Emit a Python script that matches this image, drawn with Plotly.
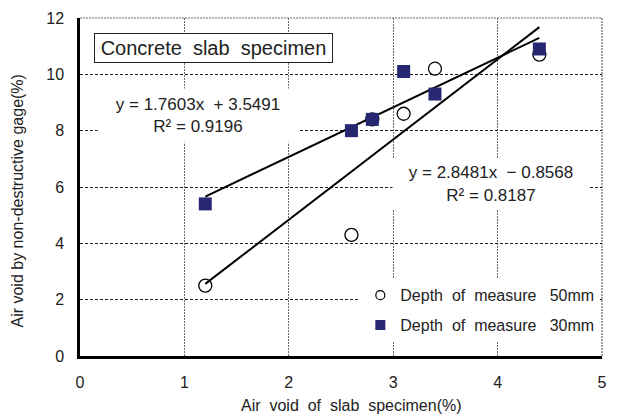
import plotly.graph_objects as go

# ---- data ----
x_specimen = [1.2, 2.6, 2.8, 3.1, 3.4, 4.4]
y_depth50 = [2.5, 4.3, 8.4, 8.6, 10.2, 10.7]
y_depth30 = [5.4, 8.0, 8.4, 10.1, 9.3, 10.9]
fit30 = [1.7603, 3.5491]   # slope, intercept
fit50 = [2.8481, -0.8568]
fit_x_range = [1.2, 4.4]
x_ticks = [0, 1, 2, 3, 4, 5]
y_ticks = [0, 2, 4, 6, 8, 10, 12]

FONT = "Liberation Sans"
NAVY = "#272772"
NB = "\u00a0"

fig = go.Figure()

# trend lines
for a, b in (fit30, fit50):
    fig.add_trace(go.Scatter(
        x=fit_x_range, y=[a * v + b for v in fit_x_range],
        mode="lines", line=dict(color="black", width=2),
        showlegend=False, hoverinfo="skip"))

# data markers
fig.add_trace(go.Scatter(
    x=x_specimen, y=y_depth50, mode="markers", showlegend=False,
    marker=dict(symbol="circle", size=13, color="rgba(0,0,0,0)",
                line=dict(color="black", width=1.3))))
fig.add_trace(go.Scatter(
    x=x_specimen, y=y_depth30, mode="markers", showlegend=False,
    marker=dict(symbol="square", size=13, color=NAVY,
                line=dict(width=0))))

# legend entries
fig.add_trace(go.Scatter(
    x=[None], y=[None], mode="markers", legendgroup="a",
    name=f"Depth{NB} of{NB} measure{NB} {NB}50mm",
    marker=dict(symbol="circle", size=9, color="white",
                line=dict(color="black", width=1.2))))
fig.add_trace(go.Scatter(
    x=[None], y=[None], mode="markers", legendgroup="b",
    name=f"Depth{NB} of{NB} measure{NB} {NB}30mm",
    marker=dict(symbol="square", size=10, color=NAVY, line=dict(width=0))))

common = dict(showgrid=True, gridwidth=1, zeroline=False,
              showline=True, linecolor="black", linewidth=2.5,
              ticks="outside", ticklen=10, tickcolor="rgba(0,0,0,0)",
              tickfont=dict(family=FONT, size=16, color="#222222"))

fig.update_xaxes(range=[0, 5], tickvals=x_ticks,
                 gridcolor="#6a6a6a", griddash="2px,1px", **common)
fig.update_yaxes(range=[0, 12], tickvals=y_ticks,
                 gridcolor="#1a1a1a", griddash="3px,2px", **common)

# dashed top and right frame
fig.add_shape(type="line", xref="paper", yref="paper", x0=0, x1=1, y0=1, y1=1,
              line=dict(color="#6a6a6a", width=1.2, dash="2px,1px"), layer="below")
fig.add_shape(type="line", xref="paper", yref="paper", x0=1, x1=1, y0=0, y1=1,
              line=dict(color="#6a6a6a", width=1.2, dash="2px,1px"), layer="below")

fig.add_annotation(
    x=1.28, y=10.94, xref="x", yref="y",
    text=f"Concrete{NB} slab{NB} specimen", showarrow=False,
    font=dict(family=FONT, size=20, color="#222222"),
    bgcolor="white", bordercolor="#222222", borderwidth=1,
    width=233, height=24, borderpad=2)

fig.add_annotation(
    x=1.13, y=8.53, xref="x", yref="y",
    text=f"y = 1.7603x {NB}+ 3.5491<br>R² = 0.9196", showarrow=False,
    font=dict(family=FONT, size=17, color="#222222"),
    bgcolor="white", width=196, height=49, borderpad=2)

fig.add_annotation(
    x=3.934, y=6.11, xref="x", yref="y",
    text=f"y = 2.8481x {NB}− 0.8568<br>R² = 0.8187", showarrow=False,
    font=dict(family=FONT, size=17, color="#222222"),
    bgcolor="white", width=192, height=46, borderpad=2)

fig.add_annotation(
    x=0.5, y=0, xref="paper", yref="paper", yanchor="middle",
    xshift=10, yshift=-49, showarrow=False,
    text=f"Air{NB} void{NB} of{NB} slab{NB} specimen(%)",
    font=dict(family=FONT, size=16, color="#222222"))

fig.add_annotation(
    x=0, y=0.457, xref="paper", yref="paper", xanchor="center",
    xshift=-62, textangle=-90, showarrow=False,
    text="Air void by non-destructive gage(%)",
    font=dict(family=FONT, size=16, color="#222222"))

fig.update_layout(
    width=617, height=416,
    margin=dict(l=80, r=10, t=18, b=60),
    paper_bgcolor="white", plot_bgcolor="white",
    legend=dict(x=0.537, y=0.23, xanchor="left", yanchor="top",
                bgcolor="white", traceorder="grouped", tracegroupgap=6,
                font=dict(family=FONT, size=16, color="#222222")),
)

fig.write_html("out.html")
